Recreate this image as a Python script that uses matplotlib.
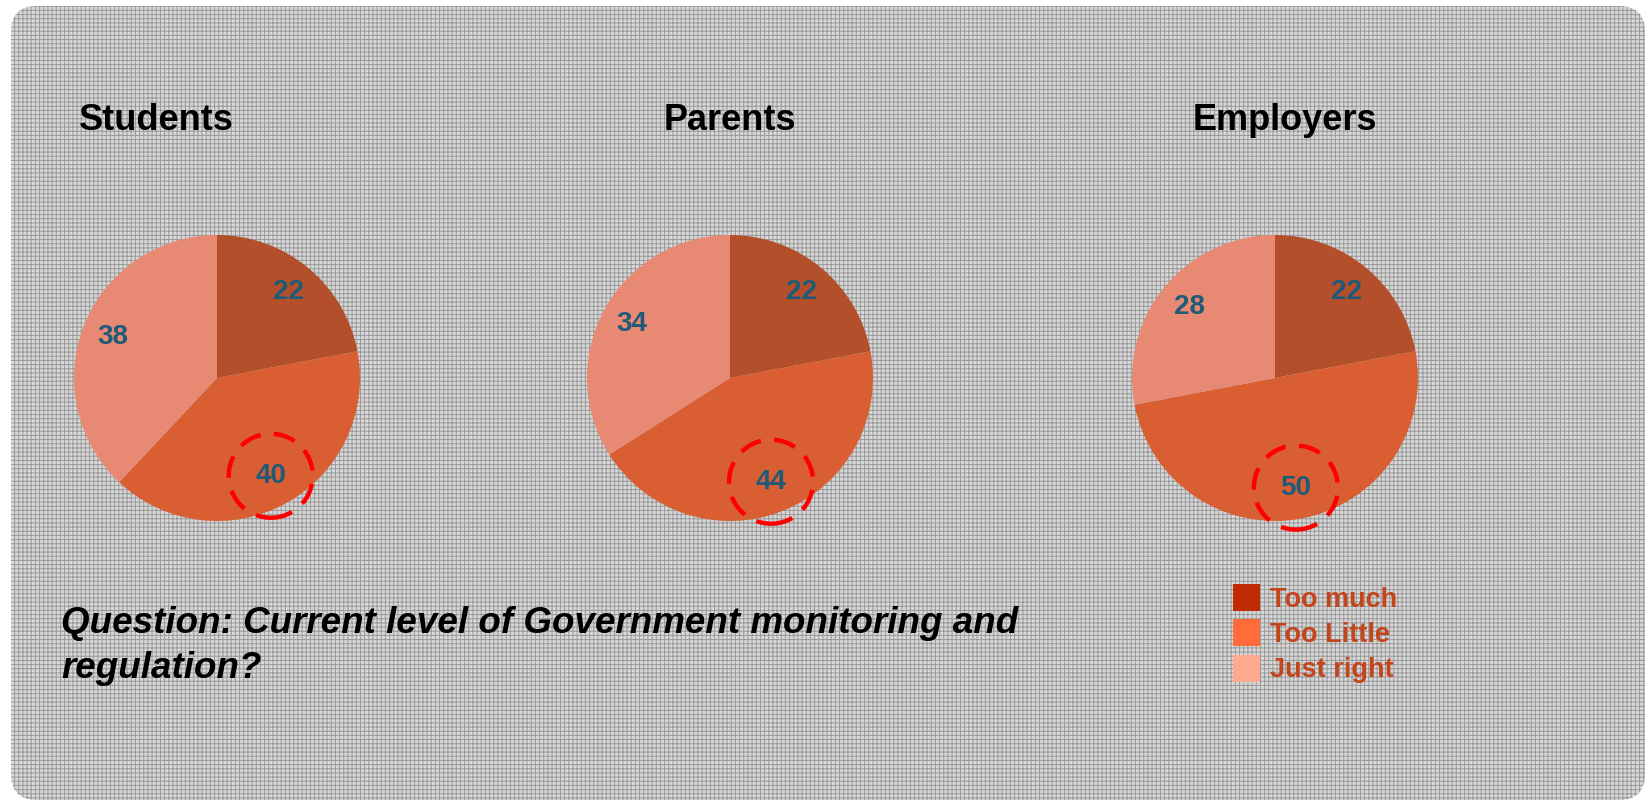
import matplotlib.pyplot as plt
from matplotlib.patches import FancyBboxPatch, Circle, Patch

# data
groups = ["Students", "Parents", "Employers"]
categories = ["Too much", "Too Little", "Just right"]
too_much = [22, 22, 22]
too_little = [40, 44, 50]
just_right = [38, 34, 28]

pie_colors = ["#b34f2a", "#d95f33", "#e88973"]
legend_colors = ["#c02a00", "#ff6b3a", "#ffa98e"]
label_color = "#1f5b78"

W, H = 1646, 801
plt.rcParams['font.family'] = ['Liberation Sans', 'DejaVu Sans']
plt.rcParams['hatch.linewidth'] = 0.7

fig = plt.figure(figsize=(W / 100, H / 100), dpi=100)
fig.patch.set_facecolor("white")

# textured rounded background
bg = fig.add_axes([0, 0, 1, 1])
bg.set_xlim(0, W)
bg.set_ylim(H, 0)
bg.axis("off")
bg.add_patch(FancyBboxPatch((11, 6), 1634, 794, boxstyle="round,pad=0,rounding_size=26",
                            facecolor="#d8d8d8", edgecolor="#999999", lw=0, hatch="++++"))

# pies
centers_x = [217, 730, 1275]
cy = 378
r = 143
title_x = [79, 664, 1193]

for i, g in enumerate(groups):
    cx = centers_x[i]
    ax = fig.add_axes([(cx - r) / W, (H - cy - r) / H, 2 * r / W, 2 * r / H])
    vals = [too_much[i], too_little[i], just_right[i]]
    wedges, texts, autotexts = ax.pie(
        vals, colors=pie_colors, startangle=90, counterclock=False,
        autopct=lambda p: f"{p:.0f}", pctdistance=0.78,
        textprops=dict(color=label_color, fontsize=20, fontweight="bold"))
    ax.set_xlim(-1, 1)
    ax.set_ylim(-1, 1)
    x, y = autotexts[1].get_position()
    ax.add_patch(Circle((x, y), 42 / r, fill=False, edgecolor="red", lw=3.2,
                        linestyle=(0, (5, 3)), clip_on=False, zorder=5))
    fig.text(title_x[i] / W, 1 - 130 / H, g, fontsize=26, fontweight="bold",
             ha="left", va="baseline")

fig.text(61 / W, 1 - 678 / H,
         "Question: Current level of Government monitoring and\nregulation?",
         fontsize=26.5, fontweight="bold", style="italic", ha="left", va="baseline",
         linespacing=1.37)

fig.legend(handles=[Patch(facecolor=c) for c in legend_colors], labels=categories,
           loc="upper left", bbox_to_anchor=(1233 / W, 1 - 584 / H), frameon=False,
           prop=dict(size=19.5, weight="bold"), labelcolor="#c4441c",
           handlelength=1.0, handleheight=1.15, handletextpad=0.35,
           labelspacing=0.25, borderpad=0, borderaxespad=0)

fig.savefig("out.png", dpi=100)
